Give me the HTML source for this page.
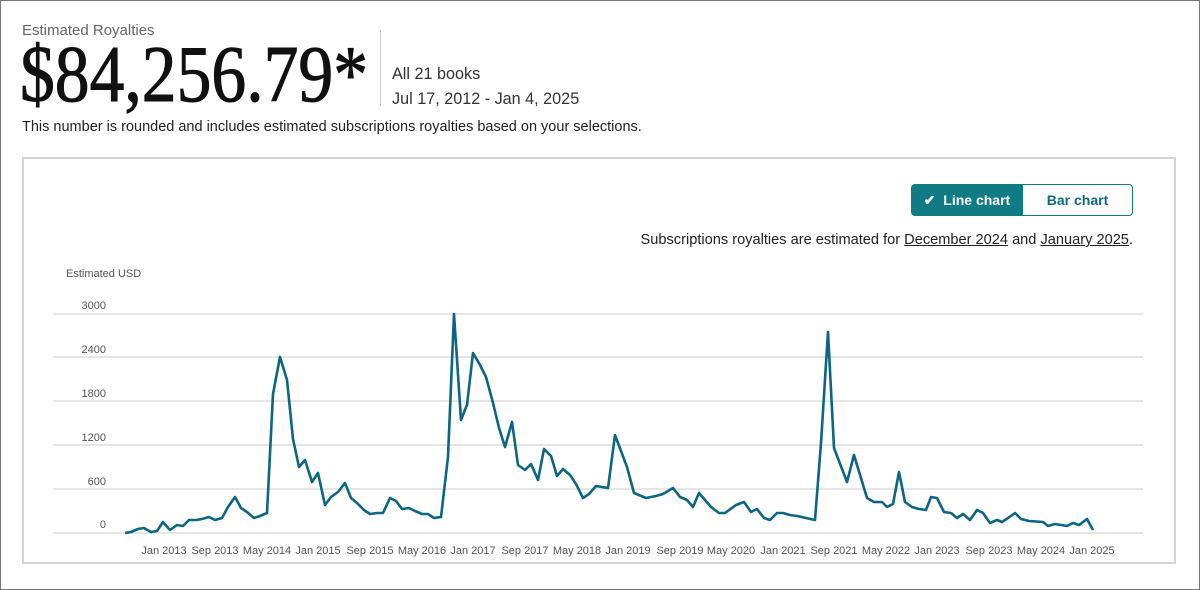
<!DOCTYPE html>
<html><head><meta charset="utf-8"><style>
body{margin:0;width:1200px;height:590px;background:#fff;font-family:"Liberation Sans",sans-serif;position:relative;overflow:hidden;color:#222}
.outer{position:absolute;left:0;top:0;width:1198px;height:588px;border:1px solid #777}
.abs{position:absolute;white-space:nowrap}
</style></head><body>
<div class="outer"></div>
<div class="abs" style="left:22px;top:22px;font-size:15px;color:#666">Estimated Royalties</div>
<div class="abs" style="left:20px;top:30px;font-family:'Liberation Serif',serif;font-size:80px;color:#111;transform:scaleX(0.87);transform-origin:0 0;line-height:90px;-webkit-text-stroke:1px #111">$84,256.79*</div>
<div class="abs" style="left:380px;top:30px;width:1px;height:76px;background:#ccc"></div>
<div class="abs" style="left:392px;top:65px;font-size:16.2px;color:#333">All 21 books</div>
<div class="abs" style="left:392px;top:90px;font-size:16.2px;color:#333">Jul 17, 2012 - Jan 4, 2025</div>
<div class="abs" style="left:22px;top:119px;font-size:14.5px;color:#222">This number is rounded and includes estimated subscriptions royalties based on your selections.</div>
<div class="abs" style="left:22px;top:157px;width:1150px;height:403px;border:2px solid #d5d5d5"></div>
<div class="abs" style="left:911px;top:184px;width:112px;height:32px;background:#0f7b85;border-radius:4px 0 0 4px;color:#fff;font-weight:bold;font-size:14px;line-height:32px;text-align:center">&#10004;&nbsp; Line chart</div>
<div class="abs" style="left:1023px;top:184px;width:109px;height:30px;border:1px solid #0f7b85;border-left:none;border-radius:0 4px 4px 0;color:#0f6a80;font-weight:bold;font-size:14px;line-height:30px;text-align:center">Bar chart</div>
<div class="abs" style="right:67px;top:232px;font-size:14.6px;color:#222">Subscriptions royalties are estimated for <u>December 2024</u> and <u>January 2025</u>.</div>
<svg class="abs" style="left:0;top:0" width="1200" height="590">
<g font-family="Liberation Sans, sans-serif" font-size="11" fill="#555">
<text x="66" y="277">Estimated USD</text>
<g stroke="#ddd" stroke-width="1.5">
<line x1="53" x2="1143" y1="314" y2="314"/><line x1="53" x2="1143" y1="357" y2="357"/><line x1="53" x2="1143" y1="401" y2="401"/><line x1="53" x2="1143" y1="445" y2="445"/><line x1="53" x2="1143" y1="489" y2="489"/><line x1="53" x2="1143" y1="533" y2="533"/>
</g>
<g text-anchor="end">
<text x="106" y="309">3000</text><text x="106" y="353">2400</text><text x="106" y="397">1800</text><text x="106" y="441">1200</text><text x="106" y="485">600</text><text x="106" y="528">0</text>
</g>
<g text-anchor="middle">
<text x="164" y="554">Jan 2013</text><text x="215" y="554">Sep 2013</text><text x="267" y="554">May 2014</text><text x="318" y="554">Jan 2015</text><text x="370" y="554">Sep 2015</text><text x="422" y="554">May 2016</text><text x="473" y="554">Jan 2017</text><text x="525" y="554">Sep 2017</text><text x="577" y="554">May 2018</text><text x="628" y="554">Jan 2019</text><text x="680" y="554">Sep 2019</text><text x="731" y="554">May 2020</text><text x="783" y="554">Jan 2021</text><text x="834" y="554">Sep 2021</text><text x="886" y="554">May 2022</text><text x="937" y="554">Jan 2023</text><text x="989" y="554">Sep 2023</text><text x="1041" y="554">May 2024</text><text x="1092" y="554">Jan 2025</text>
</g>
</g>
<polyline fill="none" stroke="#0b6583" stroke-width="2.6" stroke-linejoin="round" points="
125,533 131,532 138,529 144,528 151,532 157,531 163,522 170,530 177,525 183,526 189,520 196,520 202,519 209,517 215,520 222,518 228,507 235,497 241,508 247,512 254,518 260,516 267,513 273,394 280,357 287,380 293,439 299,467 305,460 312,482 318,473 325,505 331,497 338,492 345,483 351,498 357,503 364,510 370,514 377,513 383,513 390,498 396,501 402,509 409,508 415,511 422,514 428,514 434,518 441,517 448,457 454,314 461,420 467,405 473,353 480,365 486,377 493,403 499,428 505,447 512,422 518,465 525,470 531,464 538,480 544,449 551,456 557,476 563,469 570,475 576,484 583,498 589,494 596,486 602,487 608,488 615,435 627,467 634,493 646,498 656,496 663,494 673,488 680,497 687,500 693,507 699,493 711,507 719,513 725,513 736,505 744,502 751,512 757,509 764,518 770,520 777,513 783,513 790,515 797,516 815,520 821,443 828,332 834,448 847,482 854,455 867,498 874,502 882,502 887,507 893,504 899,472 905,502 912,507 919,509 926,510 931,497 937,498 944,512 951,513 957,518 963,514 970,520 977,510 983,513 990,523 997,520 1002,522 1008,518 1015,513 1021,519 1029,521 1043,522 1048,526 1055,524 1067,526 1073,523 1079,525 1087,519 1093,530"/>
</svg>
</body></html>
